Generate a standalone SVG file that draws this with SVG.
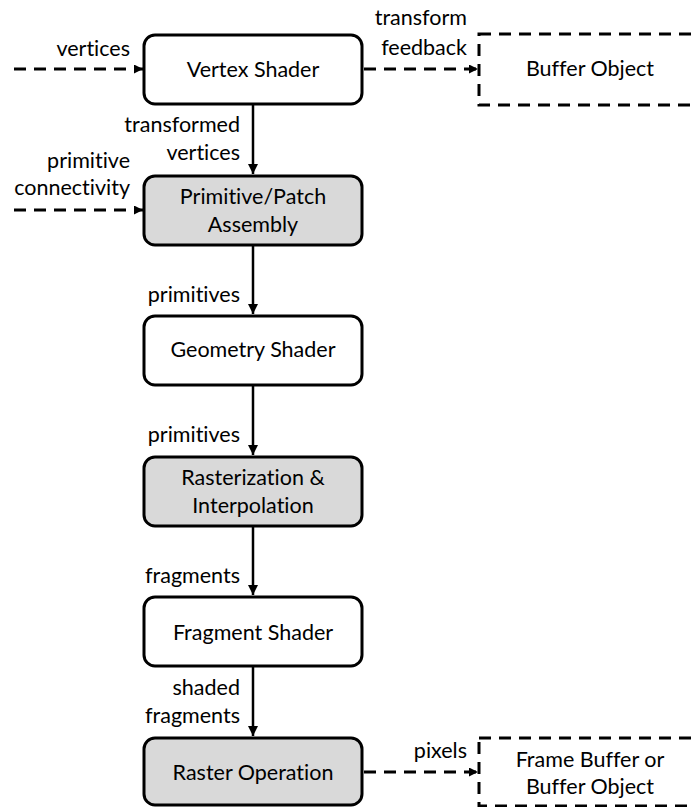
<svg xmlns="http://www.w3.org/2000/svg" width="695" height="807" viewBox="0 0 695 807">
  <style>
    .node { stroke: #000; stroke-width: 3; }
    .plain { fill: #fff; }
    .fixed { fill: #d9d9d9; }
    .buf { fill: #fff; stroke: #000; stroke-width: 3; stroke-dasharray: 12 8; }
    .t { font-family: Lato, "Liberation Sans", sans-serif; font-size: 21.5px; fill: #000; font-variant-ligatures: none; }
    .c { text-anchor: middle; }
    .r { text-anchor: end; }
    .solid { stroke: #000; stroke-width: 2.5; fill: none; marker-end: url(#head); }
    .dash { stroke: #000; stroke-width: 3; fill: none; stroke-dasharray: 12 8; marker-end: url(#headSmall); }
  </style>
  <defs>
    <marker id="head" viewBox="0 0 10 10" refX="10" refY="5" markerWidth="4" markerHeight="4" orient="auto" markerUnits="strokeWidth">
      <path d="M0,0 L10,5 L0,10 z" fill="#000"/>
    </marker>
    <marker id="headSmall" viewBox="0 0 10 10" refX="10" refY="5" markerWidth="3" markerHeight="3" orient="auto" markerUnits="strokeWidth">
      <path d="M0,0 L10,5 L0,10 z" fill="#000"/>
    </marker>
  </defs>

  <!-- connectors -->
  <g id="connectors">
    <path class="dash" d="M14,69 H143"/>
    <path class="dash" d="M14,210 H143"/>
    <path class="dash" d="M364,69 H478"/>
    <path class="dash" d="M364,772 H478"/>
    <path class="solid" d="M253,104 V174"/>
    <path class="solid" d="M253,245 V314"/>
    <path class="solid" d="M253,385 V455"/>
    <path class="solid" d="M253,526 V595"/>
    <path class="solid" d="M253,666 V736"/>
  </g>

  <!-- connector labels -->
  <g id="labels">
    <text class="t r" x="130" y="56">vertices</text>
    <text class="t r" x="240" y="132">transformed</text>
    <text class="t r" x="240" y="160">vertices</text>
    <text class="t r" x="130" y="168">primitive</text>
    <text class="t r" x="130" y="195">connectivity</text>
    <text class="t r" x="467" y="25">transform</text>
    <text class="t r" x="467" y="55">feedback</text>
    <text class="t r" x="240" y="302">primitives</text>
    <text class="t r" x="240" y="442">primitives</text>
    <text class="t r" x="240" y="583">fragments</text>
    <text class="t r" x="240" y="695">shaded</text>
    <text class="t r" x="240" y="723">fragments</text>
    <text class="t r" x="467" y="758">pixels</text>
  </g>

  <g id="vertex-shader">
    <rect class="node plain" x="144" y="35" width="218" height="69" rx="11"/>
    <text class="t c" x="253" y="77">Vertex Shader</text>
  </g>
  <g id="primitive-assembly">
    <rect class="node fixed" x="144" y="176" width="218" height="69" rx="11"/>
    <text class="t c" x="253" y="204">Primitive/Patch</text>
    <text class="t c" x="253" y="232">Assembly</text>
  </g>
  <g id="geometry-shader">
    <rect class="node plain" x="144" y="316" width="218" height="69" rx="11"/>
    <text class="t c" x="253" y="357">Geometry Shader</text>
  </g>
  <g id="rasterization">
    <rect class="node fixed" x="144" y="457" width="218" height="69" rx="11"/>
    <text class="t c" x="253" y="485">Rasterization &amp;</text>
    <text class="t c" x="253" y="513">Interpolation</text>
  </g>
  <g id="fragment-shader">
    <rect class="node plain" x="144" y="597" width="218" height="69" rx="11"/>
    <text class="t c" x="253" y="640">Fragment Shader</text>
  </g>
  <g id="raster-operation">
    <rect class="node fixed" x="144" y="738" width="218" height="67" rx="11"/>
    <text class="t c" x="253" y="780">Raster Operation</text>
  </g>
  <g id="buffer-object">
    <rect class="buf" x="479" y="34" width="240" height="71"/>
    <text class="t c" x="590" y="76">Buffer Object</text>
  </g>
  <g id="frame-buffer">
    <rect class="buf" x="479" y="738" width="240" height="68"/>
    <text class="t c" x="590" y="767">Frame Buffer or</text>
    <text class="t c" x="590" y="794">Buffer Object</text>
  </g>
</svg>
